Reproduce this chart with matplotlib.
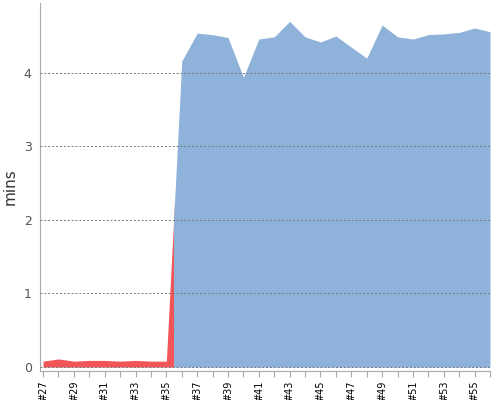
import numpy as np
import matplotlib
matplotlib.use("Agg")
import matplotlib.pyplot as plt
from matplotlib.patches import Rectangle

builds = list(range(27, 57))
tick_labels = ["#%d" % b for b in builds]
# builds #27-#35 (red) and #36-#56 (blue), duration in minutes
red_mins = [0.08, 0.11, 0.08, 0.09, 0.09, 0.08, 0.09, 0.08, 0.08]
blue_mins = [4.16, 4.54, 4.52, 4.48, 3.94, 4.46, 4.49, 4.70, 4.49, 4.42,
             4.50, 4.35, 4.20, 4.65, 4.49, 4.46, 4.52, 4.53, 4.55, 4.61, 4.56]

RED = "#f15557"
BLUE = "#8fb2da"


def main():
    x = np.array(builds)
    vals = np.array(red_mins + blue_mins)
    split = builds[len(red_mins)] - 0.5

    fig = plt.figure(figsize=(5, 4), dpi=100)
    ax = fig.add_axes([0.08, 0.0725, 0.90, 0.92])

    red = ax.fill_between(x, 0, vals, color=RED, linewidth=0, zorder=2)
    red.set_clip_path(Rectangle((20, -1), split - 20, 10, transform=ax.transData))
    blue = ax.fill_between(x, 0, vals, color=BLUE, linewidth=0, zorder=2)
    blue.set_clip_path(Rectangle((split, -1), 60 - split, 10, transform=ax.transData))

    ax.set_xlim(26.8, 56)
    ax.set_ylim(-0.054, 4.95)

    ax.set_yticks([0, 1, 2, 3, 4])
    ax.yaxis.grid(True, linestyle=(0, (2, 2)), color="#777777", linewidth=0.7, zorder=3)
    ax.set_axisbelow(False)
    ax.tick_params(axis="y", length=0, labelsize=9, labelcolor="#555555", pad=6)

    ax.set_xticks(x)
    ax.set_xticklabels([t if (b % 2 == 1) else "" for t, b in zip(tick_labels, builds)],
                       rotation=90, fontsize=7)
    ax.tick_params(axis="x", length=4, color="#aaaaaa", pad=3)

    for s in ["top", "right"]:
        ax.spines[s].set_visible(False)
    for s in ["left", "bottom"]:
        ax.spines[s].set_color("#aaaaaa")
        ax.spines[s].set_linewidth(0.8)

    ax.set_ylabel("mins", fontsize=11, color="#333333", labelpad=4)

    fig.savefig("out.png", dpi=100)


if __name__ == "__main__":
    main()
